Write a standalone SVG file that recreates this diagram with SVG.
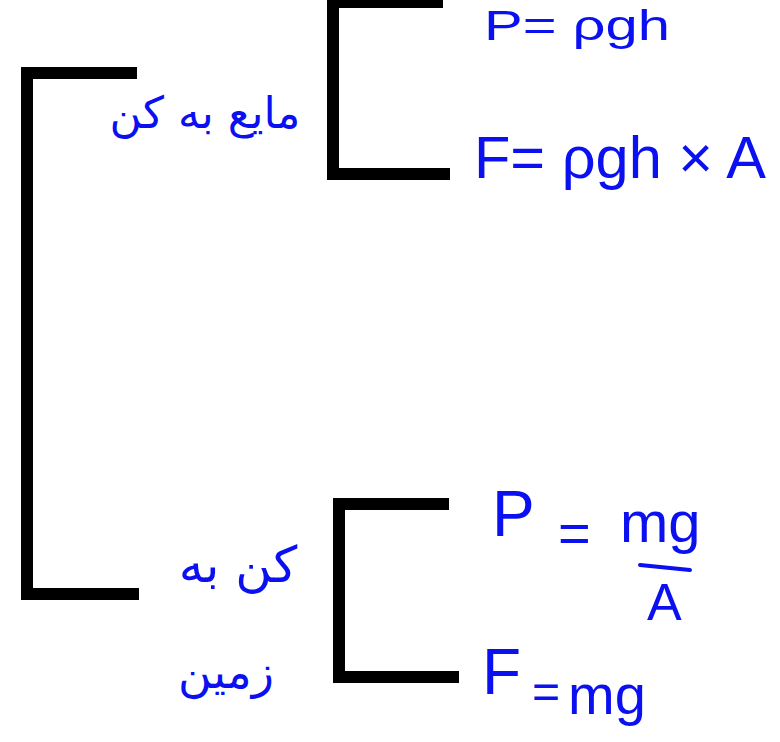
<svg xmlns="http://www.w3.org/2000/svg" width="780" height="742" viewBox="0 0 780 742">
<style>
.br{fill:none;stroke:#000;stroke-width:12;stroke-linejoin:miter;stroke-linecap:butt}
.hw{fill:#0a10f0;font-family:"Liberation Sans","DejaVu Sans",sans-serif}
.fa{fill:#0a10f0;font-family:"DejaVu Sans","Noto Sans",sans-serif}
</style>
<rect width="780" height="742" fill="#fff"/>
<g id="connectors">
<path id="bracket-main" class="br" d="M137,73 H27 V594 H139"/>
<path id="bracket-top" class="br" d="M443,2 H333 V174 H450"/>
<path id="bracket-bottom" class="br" d="M449,504 H339 V677 H459"/>
</g>
<g id="node-liquid">
<text class="fa" x="205" y="128" font-size="44" text-anchor="middle" direction="rtl">مایع به کن</text>
</g>
<g id="node-liquid-p">
<text class="hw" x="484" y="40" font-size="42" textLength="186" lengthAdjust="spacingAndGlyphs">P= ρgh</text>
</g>
<g id="node-liquid-f">
<text class="hw" x="474" y="178" font-size="60" textLength="292" lengthAdjust="spacingAndGlyphs">F= ρgh × A</text>
</g>
<g id="node-solid">
<text class="fa" x="238" y="582" font-size="50" text-anchor="middle" direction="rtl">کن به</text>
<text class="fa" x="226" y="688" font-size="46" text-anchor="middle" direction="rtl">زمین</text>
</g>
<g id="node-solid-p">
<text class="hw" x="492" y="536" font-size="64">P</text>
<text class="hw" x="558" y="552" font-size="56">=</text>
<text class="hw" x="620" y="542" font-size="58">mg</text>
<line x1="640" y1="565" x2="690" y2="570" stroke="#0a10f0" stroke-width="4" stroke-linecap="round"/>
<text class="hw" x="647" y="620" font-size="52">A</text>
</g>
<g id="node-solid-f">
<text class="hw" x="482" y="694" font-size="64">F</text>
<text class="hw" x="532" y="708" font-size="48">=</text>
<text class="hw" x="568" y="714" font-size="56">mg</text>
</g>
</svg>
